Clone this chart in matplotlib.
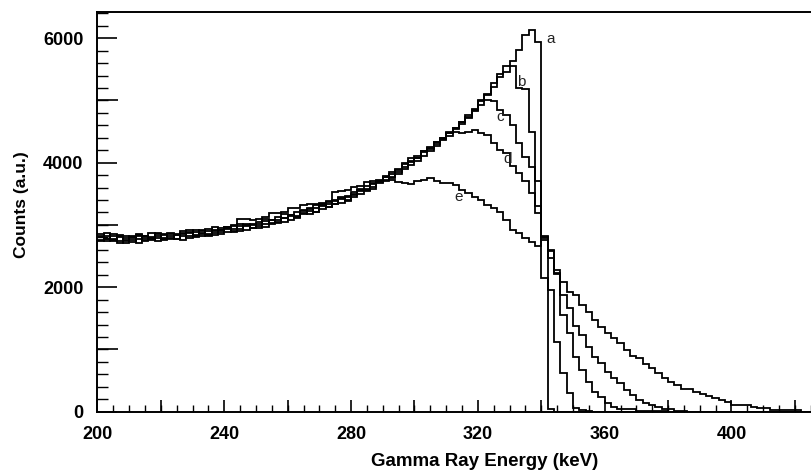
import numpy as np
import matplotlib
matplotlib.use("Agg")
import matplotlib.pyplot as plt
from matplotlib.ticker import MultipleLocator, FixedLocator

# ---------------- data (2 keV bins, left edges 200 ... 424) ----------------
bin_edges = list(range(200, 428, 2))   # 114 edges -> 113 bins

a_low = [2850, 2780, 2825, 2715, 2795, 2730, 2855, 2790, 2760, 2850,
         2795, 2850, 2775, 2850, 2915, 2820, 2865, 2930, 2875, 2855,
         2955, 3005, 2935, 2980, 2950, 3055, 3010, 3085, 3075, 3050,
         3165, 3145, 3240, 3220, 3215, 3300, 3370, 3340, 3430, 3400,
         3495, 3575, 3560, 3660, 3675, 3700, 3850, 3850, 3975, 4035]
a_high = [4100, 4170, 4240, 4300, 4390, 4470, 4540, 4650, 4740, 4860,
          4990, 5110, 5280, 5430, 5560, 5640, 5810, 6050, 6130, 5940,
          2150, 40]

b_low = [2765, 2865, 2740, 2800, 2765, 2830, 2715, 2825, 2810, 2750,
         2860, 2780, 2840, 2905, 2795, 2890, 2850, 2830, 2960, 2920,
         2885, 2935, 3020, 2915, 3020, 2990, 3095, 3015, 3125, 3115,
         3080, 3210, 3175, 3255, 3320, 3250, 3335, 3405, 3345, 3470,
         3480, 3490, 3625, 3610, 3725, 3770, 3765, 3900, 3925, 4070]
b_high = [4080, 4190, 4220, 4330, 4370, 4490, 4560, 4620, 4770, 4830,
          5010, 5080, 5220, 5380, 5460, 5550, 5200, 5180, 4500, 3700,
          2820, 1955, 1125, 617, 295, 54, 20, 10]

c_low = [2815, 2745, 2860, 2750, 2830, 2765, 2820, 2740, 2865, 2785,
         2760, 2865, 2840, 2765, 2880, 2925, 2830, 2895, 2840, 2955,
         2935, 2885, 2985, 3015, 2950, 3020, 2975, 3085, 3040, 3170,
         3145, 3125, 3225, 3170, 3265, 3335, 3285, 3390, 3410, 3385,
         3530, 3540, 3540, 3675, 3710, 3720, 3815, 3815, 3990, 4005]
c_high = [4030, 4180, 4190, 4340, 4380, 4480, 4560, 4660, 4720, 4840,
          4930, 5000, 4990, 4850, 4770, 4600, 4320, 4090, 3930, 3300,
          2790, 2470, 2220, 1550, 1260, 885, 670, 480, 320, 240,
          145, 80, 40, 38, 38, 16, 16, 16, 10, 5]

d_low = [2750, 2830, 2775, 2835, 2710, 2795, 2835, 2755, 2795, 2870,
         2775, 2830, 2775, 2870, 2830, 2805, 2915, 2845, 2925, 2890,
         2970, 2900, 2900, 3000, 3000, 2955, 3060, 3035, 3025, 3115,
         3165, 3110, 3190, 3270, 3200, 3320, 3285, 3340, 3445, 3450,
         3445, 3560, 3575, 3575, 3690, 3785, 3750, 3880, 3905, 3970]
d_high = [4080, 4110, 4250, 4270, 4400, 4430, 4490, 4470, 4500, 4520,
          4470, 4450, 4320, 4210, 4150, 3940, 3830, 3700, 3510, 3190,
          2800, 2580, 2230, 1875, 1660, 1370, 1230, 1045, 885, 780,
          640, 540, 455, 350, 270, 190, 135, 110, 70, 40,
          40, 15, 5]

e_low = [2810, 2780, 2760, 2820, 2750, 2810, 2780, 2830, 2775, 2815,
         2845, 2790, 2850, 2820, 2870, 2840, 2895, 2860, 2905, 2925,
         2965, 2985, 3090, 3090, 3085, 3090, 3130, 3190, 3190, 3200,
         3270, 3270, 3320, 3330, 3340, 3360, 3380, 3530, 3550, 3560,
         3610, 3620, 3690, 3700, 3700, 3770, 3720, 3690, 3670, 3660]
e_high = [3700, 3730, 3750, 3700, 3670, 3670, 3640, 3560, 3510, 3450,
          3400, 3320, 3270, 3210, 3080, 2920, 2870, 2790, 2730, 2660,
          2760, 2600, 2280, 2090, 1920, 1870, 1710, 1606, 1473, 1365,
          1259, 1183, 1098, 991, 895, 857, 766, 697, 617, 536,
          470, 428, 360, 360, 322, 284, 252, 215, 188, 161,
          108, 108, 108, 80, 54, 54, 27, 27, 27, 27,
          27]

labels = ["a", "b", "c", "d", "e"]
label_pos_E = [341.7, 332.2, 325.9, 328.0, 312.5]
label_pos_C = [5980, 5300, 4740, 4055, 3455]

x_tick_labels = ["200", "240", "280", "320", "360", "400"]
y_tick_labels = ["0", "2000", "4000", "6000"]

# ---------------- figure ----------------
nb = len(bin_edges) - 1


def full(lo, hi):
    v = lo + hi
    return np.array(v + [0] * (nb - len(v)), dtype=float)


series = [full(a_low, a_high), full(b_low, b_high), full(c_low, c_high),
          full(d_low, d_high), full(e_low, e_high)]

fig = plt.figure(figsize=(8.12, 4.72), dpi=100)
ax = fig.add_axes([97.5 / 812, 1 - 411.7 / 472, 1 - 97.5 / 812, (411.7 - 12.3) / 472])

for vals in series:
    ax.stairs(vals, np.array(bin_edges, dtype=float), baseline=None,
              color="black", linewidth=1.3)

for lab, ex, cy in zip(labels, label_pos_E, label_pos_C):
    ax.text(ex, cy, lab, fontsize=11, family="Liberation Sans",
            ha="left", va="center", color="#222222")

ax.set_xlim(200, 425.4)
ax.set_ylim(0, 6416)

for s in ["left", "top", "bottom"]:
    ax.spines[s].set_linewidth(1.4)
ax.spines["right"].set_visible(False)

ax.xaxis.set_major_locator(FixedLocator([float(t) for t in x_tick_labels]))
ax.set_xticklabels(x_tick_labels)
ax.xaxis.set_minor_locator(MultipleLocator(5))
ax.yaxis.set_major_locator(FixedLocator([float(t) for t in y_tick_labels]))
ax.set_yticklabels(y_tick_labels)
ax.yaxis.set_minor_locator(MultipleLocator(200))

ax.tick_params(axis="x", which="major", direction="in", length=8.6, width=1.2,
               pad=10, labelsize=13)
ax.tick_params(axis="x", which="minor", direction="in", length=5, width=1.0)
ax.tick_params(axis="y", which="major", direction="in", length=14.5, width=1.2,
               pad=10, labelsize=13)
ax.tick_params(axis="y", which="minor", direction="in", length=7.7, width=1.0)
ax.tick_params(top=False, right=False, which="both")

# medium-length x ticks every 20 keV and y ticks every 1000 counts
for xv in range(220, 421, 20):
    if xv % 40 != 0:
        ax.plot([xv, xv], [0, 6416 * 12 / 399.4], color="black", lw=1.2,
                solid_capstyle="butt", clip_on=False)
for yv in [1000, 3000, 5000]:
    ax.plot([200, 200 + 225.4 * 20.7 / 714.5], [yv, yv], color="black", lw=1.2,
            solid_capstyle="butt", clip_on=False)

for t in ax.get_xticklabels() + ax.get_yticklabels():
    t.set_family("Liberation Sans")
    t.set_fontweight("bold")

fig.text(485 / 812, 1 - 462 / 472, "Gamma Ray Energy (keV)", ha="center",
         va="center", fontsize=13.5, fontweight="bold", family="Liberation Sans")
fig.text(22 / 812, 1 - 205 / 472, "Counts (a.u.)", ha="center", va="center",
         rotation=90, fontsize=12.5, fontweight="bold", family="Liberation Sans")

fig.savefig("out.png", dpi=100)
